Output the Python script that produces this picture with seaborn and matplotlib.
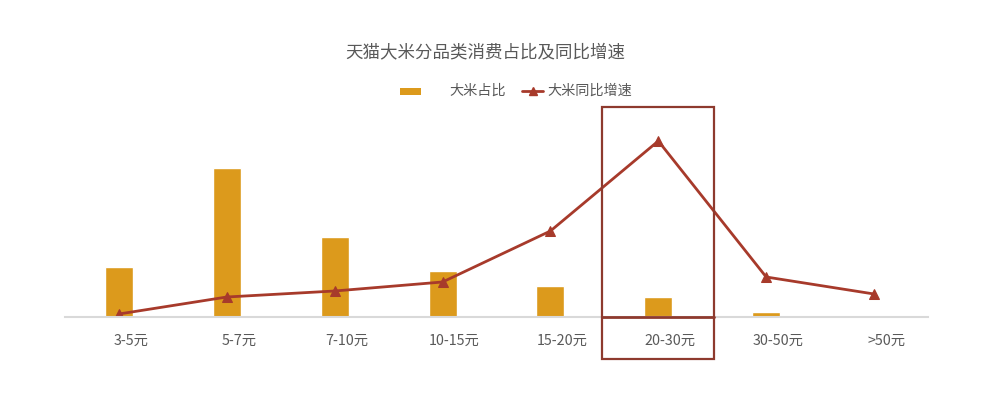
import matplotlib
matplotlib.use("Agg")
import matplotlib.pyplot as plt
import matplotlib.transforms as mtransforms
import seaborn as sns
import pandas as pd
from matplotlib.patches import Rectangle
from matplotlib.lines import Line2D

categories = ["3-5元", "5-7元", "7-10元", "10-15元", "15-20元", "20-30元", "30-50元", ">50元"]
share = [10.0, 29.8, 16.0, 9.2, 6.2, 4.0, 1.0, 0.0]
growth = [0.6, 4.0, 5.2, 7.0, 17.2, 35.2, 8.0, 4.6]

sns.set_theme(style="white")
plt.rcParams['font.family'] = ['Noto Sans CJK SC', 'DejaVu Sans']

bar_color = "#DC9A1C"
line_color = "#A73A2B"
box_color = "#8E3A2E"
text_color = "#595959"

W, H = 1002, 394
fig = plt.figure(figsize=(W/100, H/100), dpi=100)
x0, x1, yb, yt = 65, 928, 317, 107
ax = fig.add_axes([x0/W, (H-yb)/H, (x1-x0)/W, (yb-yt)/H])

df = pd.DataFrame({"cat": categories, "share": share, "growth": growth})
sns.barplot(data=df, x="cat", y="share", color=bar_color, width=0.26, saturation=1, ax=ax)
sns.lineplot(x=list(range(len(categories))), y=growth, color=line_color, lw=2,
             marker="^", markersize=6.5, markeredgecolor=line_color, ax=ax)

ax.set_xlim(-0.5, len(categories) - 0.5)
ax.set_ylim(0, 42)
ax.set_xlabel("")
ax.set_ylabel("")
ax.set_yticks([])
for s in ["top", "right", "left"]:
    ax.spines[s].set_visible(False)
ax.spines["bottom"].set_color("#D9D9D9")
ax.spines["bottom"].set_linewidth(1.5)
ax.tick_params(axis="x", length=0, pad=12, labelsize=10.3, labelcolor=text_color)
offset = mtransforms.ScaledTranslation(0.12, 0, fig.dpi_scale_trans)
for lab in ax.get_xticklabels():
    lab.set_transform(lab.get_transform() + offset)

# highlight box around 20-30元
bx0, bx1 = 4.475, 5.515
rect = Rectangle((bx0, -0.2), bx1 - bx0, 1.2, transform=ax.get_xaxis_transform(),
                 fill=False, edgecolor=box_color, lw=1.6, clip_on=False, zorder=5)
ax.add_patch(rect)
ax.plot([bx0, bx1], [0, 0], transform=ax.get_xaxis_transform(), color=box_color,
        lw=2, clip_on=False, zorder=5)

fig.text(485/W, 1 - 52/H, "天猫大米分品类消费占比及同比增速", ha="center", va="center",
         fontsize=12.6, color=text_color)

# legend drawn in figure pixel positions
ly = 1 - 91/H
fig.patches.append(Rectangle((400/W, 1 - 95/H), 21/W, 7/H, transform=fig.transFigure,
                             facecolor=bar_color, edgecolor="none"))
fig.text(449/W, ly, "大米占比", ha="left", va="center", fontsize=10.2, color=text_color)
fig.lines.append(Line2D([522/W, 543/W], [ly, ly], transform=fig.transFigure,
                        color=line_color, lw=2))
fig.lines.append(Line2D([532.5/W], [ly], transform=fig.transFigure, color=line_color,
                        marker="^", markersize=6, lw=0))
fig.text(547/W, ly, "大米同比增速", ha="left", va="center", fontsize=10.2, color=text_color)

fig.savefig("out.png", dpi=100)
